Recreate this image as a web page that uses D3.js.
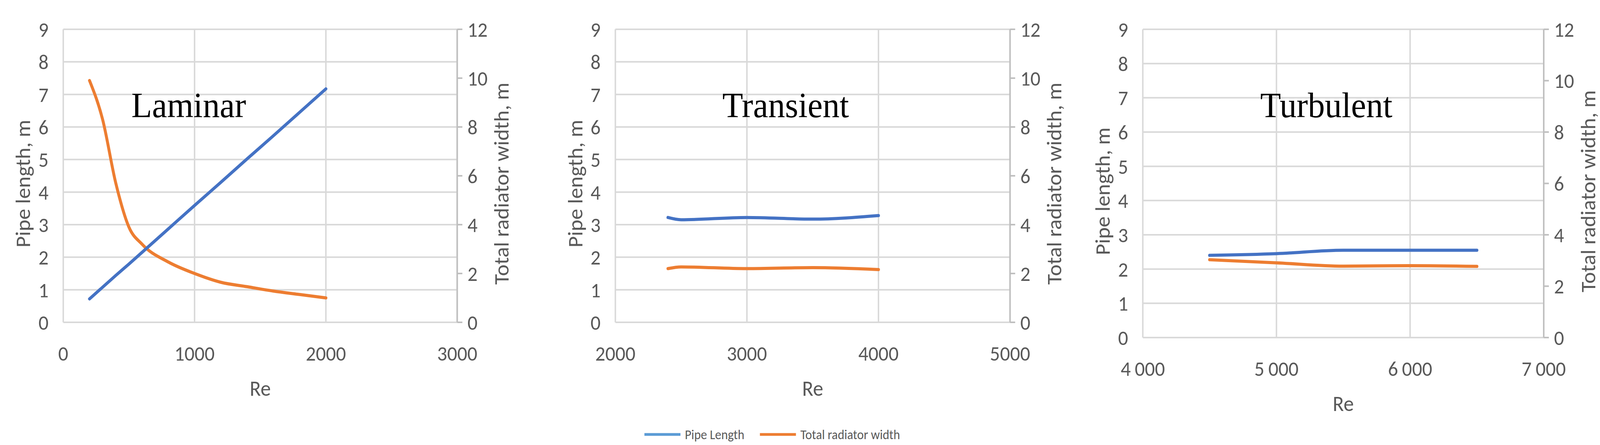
<!DOCTYPE html>
<html>
<head>
<meta charset="utf-8">
<script src="https://cdn.jsdelivr.net/npm/d3@7"></script>
<style>
  html, body { margin: 0; background: #fff; overflow: hidden; }
  svg { display: block; width: 100vw; height: 100vh; }
</style>
</head>
<body>
<div id="chart"></div>
<script>
// values
const lamRe = [200, 300, 400, 500, 600, 800, 1000, 1200, 1400, 1600, 1800, 2000];
const lamPipe = [0.72, 1.08, 1.44, 1.79, 2.15, 2.87, 3.59, 4.30, 5.02, 5.73, 6.45, 7.17];
const lamWidth = [9.9, 8.3, 5.7, 3.9, 3.2, 2.47, 2.0, 1.64, 1.46, 1.28, 1.14, 1.0];

const traRe = [2400, 2500, 3000, 3500, 4000];
const traPipe = [3.22, 3.15, 3.22, 3.17, 3.28];
const traWidth = [2.2, 2.27, 2.2, 2.24, 2.16];

const turRe = [4500, 5000, 5500, 6000, 6500];
const turPipe = [2.4, 2.45, 2.55, 2.55, 2.55];
const turWidth = [3.03, 2.91, 2.78, 2.8, 2.77];

const leftTicks = [0, 1, 2, 3, 4, 5, 6, 7, 8, 9];
const rightTicks = [0, 2, 4, 6, 8, 10, 12];

const blue = '#4472C4', orange = '#ED7D31', grey = '#595959', grid = '#d9d9d9';
const sans = 'Carlito, "Open Sans", sans-serif';

const panels = [
  { title: 'Laminar', re: lamRe, pipe: lamPipe, width: lamWidth, xd: [0, 3000], xt: [0, 1000, 2000, 3000],
    fmt: d3.format('d'), box: { l: 172, r: 1243, t: 75, b: 825 }, tx: 513 },
  { title: 'Transient', re: traRe, pipe: traPipe, width: traWidth, xd: [2000, 5000], xt: [2000, 3000, 4000, 5000],
    fmt: d3.format('d'), box: { l: 1673, r: 2746, t: 75, b: 825 }, tx: 2136 },
  { title: 'Turbulent', re: turRe, pipe: turPipe, width: turWidth, xd: [4000, 7000], xt: [4000, 5000, 6000, 7000],
    fmt: d => d3.format(',')(d).replace(',', '\u2009'), box: { l: 3107, r: 4197, t: 75, b: 864 }, tx: 3606 }
];

const svg = d3.select('#chart').append('svg')
  .attr('viewBox', '0 0 4350 1139')
  .attr('preserveAspectRatio', 'none');

panels.forEach(p => {
  const b = p.box;
  const x = d3.scaleLinear().domain(p.xd).range([b.l, b.r]);
  const yL = d3.scaleLinear().domain([0, 9]).range([b.b, b.t]);
  const yR = d3.scaleLinear().domain([0, 12]).range([b.b, b.t]);
  const g = svg.append('g').style('font-family', sans);

  // gridlines
  g.selectAll('.hg').data(leftTicks).enter().append('line')
    .attr('x1', b.l).attr('x2', b.r).attr('y1', d => yL(d)).attr('y2', d => yL(d))
    .attr('stroke', grid).attr('stroke-width', 4);
  g.selectAll('.vg').data(p.xt).enter().append('line')
    .attr('x1', d => x(d)).attr('x2', d => x(d)).attr('y1', b.t).attr('y2', b.b)
    .attr('stroke', grid).attr('stroke-width', 4);

  // right axis line and ticks
  g.append('line').attr('x1', b.r).attr('x2', b.r).attr('y1', b.t).attr('y2', b.b)
    .attr('stroke', '#bfbfbf').attr('stroke-width', 4);
  g.selectAll('.rt').data(rightTicks).enter().append('line')
    .attr('x1', b.r).attr('x2', b.r + 14).attr('y1', d => yR(d)).attr('y2', d => yR(d))
    .attr('stroke', '#bfbfbf').attr('stroke-width', 4);

  // tick labels
  g.selectAll('.lt').data(leftTicks).enter().append('text')
    .attr('x', b.l - 40).attr('y', d => yL(d)).attr('dy', '0.35em')
    .attr('text-anchor', 'end').attr('font-size', 54).attr('fill', grey).text(d => d);
  g.selectAll('.rl').data(rightTicks).enter().append('text')
    .attr('x', b.r + 28).attr('y', d => yR(d)).attr('dy', '0.35em')
    .attr('font-size', 54).attr('fill', grey).text(d => d);
  g.selectAll('.xl').data(p.xt).enter().append('text')
    .attr('x', d => x(d)).attr('y', b.b + 98)
    .attr('text-anchor', 'middle').attr('font-size', 54).attr('fill', grey).text(p.fmt);

  // axis titles
  g.append('text').attr('x', (b.l + b.r) / 2).attr('y', b.b + 188)
    .attr('text-anchor', 'middle').attr('font-size', 56).attr('fill', grey).text('Re');
  g.append('text').attr('transform', `translate(${b.l - 90},${(b.t + b.b) / 2 + 20}) rotate(-90)`)
    .attr('text-anchor', 'middle').attr('font-size', 56).attr('fill', grey).text('Pipe length, m');
  g.append('text').attr('transform', `translate(${b.r + 140},${(b.t + b.b) / 2 + 20}) rotate(-90)`)
    .attr('text-anchor', 'middle').attr('font-size', 56).attr('fill', grey).text('Total radiator width, m');

  // series
  const lineL = d3.line().x((d, i) => x(p.re[i])).y(d => yL(d)).curve(d3.curveMonotoneX);
  const lineR = d3.line().x((d, i) => x(p.re[i])).y(d => yR(d)).curve(d3.curveMonotoneX);
  g.append('path').attr('d', lineR(p.width)).attr('fill', 'none')
    .attr('stroke', orange).attr('stroke-width', 8).attr('stroke-linecap', 'round');
  g.append('path').attr('d', lineL(p.pipe)).attr('fill', 'none')
    .attr('stroke', blue).attr('stroke-width', 8).attr('stroke-linecap', 'round');

  g.append('text').attr('x', p.tx).attr('y', 300).attr('text-anchor', 'middle')
    .style('font-family', '"Liberation Serif", "Times New Roman", serif')
    .attr('font-size', 92).attr('fill', '#000').text(p.title);
});

// legend
const legend = [{ name: 'Pipe Length', c: '#5B9BD5', x: 1752 }, { name: 'Total radiator width', c: orange, x: 2066 }];
const lg = svg.selectAll('.lg').data(legend).enter().append('g').style('font-family', sans);
lg.append('line').attr('x1', d => d.x).attr('x2', d => d.x + 98).attr('y1', 1112).attr('y2', 1112)
  .attr('stroke', d => d.c).attr('stroke-width', 7);
lg.append('text').attr('x', d => d.x + 110).attr('y', 1112).attr('dy', '0.35em')
  .attr('font-size', 34).attr('fill', grey).text(d => d.name);
</script>
</body>
</html>
